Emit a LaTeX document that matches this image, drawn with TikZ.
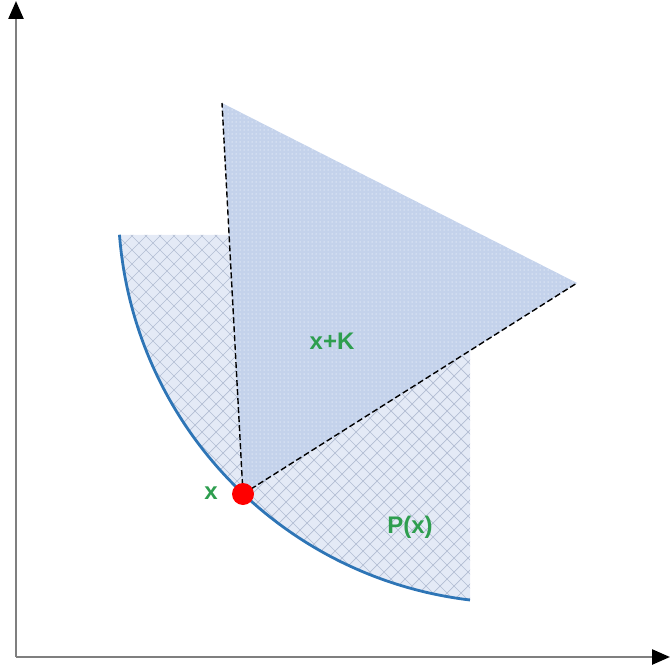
\documentclass[tikz,border=0pt]{standalone}
\usepackage{fontspec}
\setmainfont{Liberation Sans}
\usetikzlibrary{arrows.meta,patterns}
\definecolor{pfill}{HTML}{E4EAF6}
\definecolor{hatch}{HTML}{B3BDD3}
\definecolor{kfill}{HTML}{C4D2EB}
\definecolor{kdot}{HTML}{E2E9F6}
\definecolor{arcblue}{HTML}{2E75B6}
\definecolor{lblgreen}{HTML}{2E9E4F}
\definecolor{axisgray}{HTML}{7F7F7F}
\pgfdeclarepatternformonly{kdots}{\pgfqpoint{-1pt}{-1pt}}{\pgfqpoint{1pt}{1pt}}{\pgfqpoint{4pt}{4pt}}{%
  \pgfpathcircle{\pgfqpoint{0pt}{0pt}}{0.75pt}\pgfusepath{fill}}
\tikzset{
  axisline/.style={draw=axisgray, line width=2.5pt, -{Triangle[length=18pt,width=15pt,color=black,fill=black]}},
  coneedge/.style={draw=black, line width=1.4pt, dash pattern=on 6pt off 3pt},
  lbl/.style={text=lblgreen, font=\fontsize{24}{24}\selectfont\bfseries, inner sep=0pt},
  reddot/.style={circle, fill=red, draw=none, minimum size=22pt, inner sep=0pt}
}
\begin{document}
\begin{tikzpicture}[x=1pt,y=1pt]
\useasboundingbox (0,0) rectangle (671,670);
% coordinates
\coordinate (O) at (16,13);
\coordinate (ytip) at (16,669);
\coordinate (xtip) at (670,13);
\coordinate (apex) at (243,176);
\coordinate (cl) at (222,567);
\coordinate (cr) at (577,387);
\coordinate (ptl) at (119,435);
\coordinate (ptr) at (470,435);
\coordinate (pbr) at (470,70);
% P(x) region
\fill[pfill] (ptl) -- (ptr) -- (pbr) arc[start angle=263.2, end angle=184.45, radius=399] -- cycle;
\begin{scope}
  \clip (ptl) -- (ptr) -- (pbr) arc[start angle=263.2, end angle=184.45, radius=399] -- cycle;
  \foreach \i in {-50,...,50} {
    \draw[hatch, line width=0.7pt] (\i*14+300, 0) -- ++(600,600);
    \draw[hatch, line width=0.7pt] (\i*14+300, 0) -- ++(-600,600);
  }
\end{scope}
\draw[arcblue, line width=2.8pt] (pbr) arc[start angle=263.2, end angle=184.45, radius=399];
% cone x+K
\fill[kfill] (apex) -- (cl) -- (cr) -- cycle;
\fill[pattern=kdots, pattern color=kdot] (apex) -- (cl) -- (cr) -- cycle;
\draw[coneedge] (apex) -- (cl);
\draw[coneedge] (apex) -- (cr);
% point x
\node[reddot] (xdot) at (apex) {};
% axes
\draw[axisline] (O) -- (ytip);
\draw[axisline] (O) -- (xtip);
% labels
\node[lbl] (lx) at (211,177) {x};
\node[lbl] (lxk) at (332,329) {x+K};
\node[lbl] (lpx) at (410,143) {P(x)};
\end{tikzpicture}
\end{document}
